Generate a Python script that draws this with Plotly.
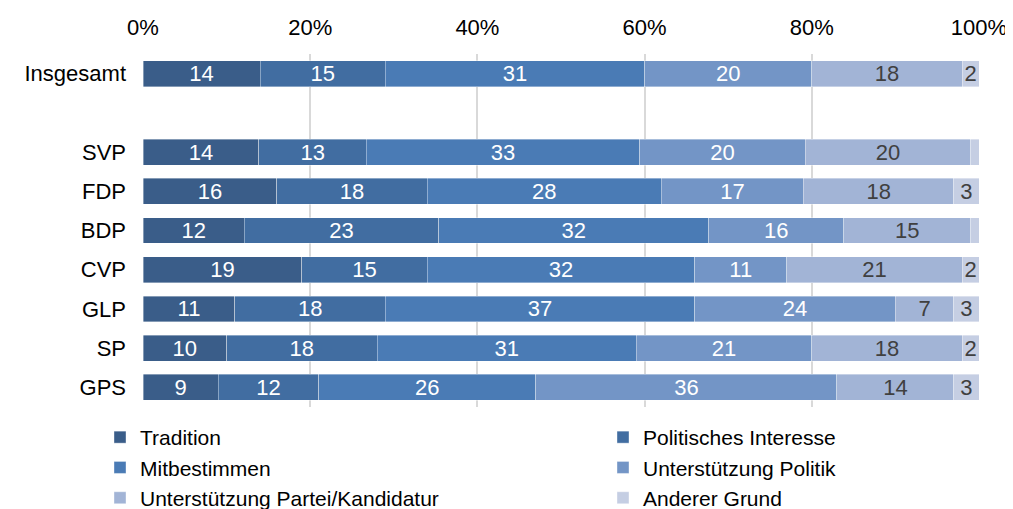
import plotly.graph_objects as go

categories = ["Insgesamt", " ", "SVP", "FDP", "BDP", "CVP", "GLP", "SP", "GPS"]
series_names = ["Tradition", "Politisches Interesse", "Mitbestimmen",
                "Unterstützung Politik", "Unterstützung Partei/Kandidatur", "Anderer Grund"]

tradition = [14, None, 14, 16, 12, 19, 11, 10, 9]
politisches_interesse = [15, None, 13, 18, 23, 15, 18, 18, 12]
mitbestimmen = [31, None, 33, 28, 32, 32, 37, 31, 26]
unterstuetzung_politik = [20, None, 20, 17, 16, 11, 24, 21, 36]
unterstuetzung_partei = [18, None, 20, 18, 15, 21, 7, 18, 14]
anderer_grund = [2, None, 1, 3, 1, 2, 3, 2, 3]

series_values = [tradition, politisches_interesse, mitbestimmen,
                 unterstuetzung_politik, unterstuetzung_partei, anderer_grund]
colors = ["#3A5D89", "#416DA1", "#4A7BB5", "#7395C6", "#A2B4D6", "#C5CEE3"]
text_colors = ["white", "white", "white", "white", "#404040", "#404040"]
legend_ids = ["legend", "legend2", "legend", "legend2", "legend", "legend2"]
tick_vals = [0, 20, 40, 60, 80, 100]
tick_labels = ["0%", "20%", "40%", "60%", "80%", "100%"]

FONT = "Liberation Sans, Arial, sans-serif"

# page body has an 8px margin; figure sized to fit the 1013x509 window
W, H = 1005, 501

fig = go.Figure()
for name, vals, col, tcol, lg in zip(series_names, series_values, colors, text_colors, legend_ids):
    txt = ["" if (v is None or v < 2) else str(v) for v in vals]
    fig.add_trace(go.Bar(
        name=name, y=categories, x=vals, orientation="h",
        marker=dict(color=col, line=dict(color="rgba(255,255,255,0.5)", width=0.75)),
        text=txt, textposition="inside", insidetextanchor="middle",
        textangle=0, constraintext="none",
        textfont=dict(family=FONT, size=22, color=tcol),
        hoverinfo="skip", legend=lg,
    ))

legend_common = dict(orientation="v", xanchor="left", yref="container", yanchor="top",
                     font=dict(family=FONT, size=21, color="#000000"),
                     itemwidth=30, tracegroupgap=0, borderwidth=0, traceorder="normal",
                     bgcolor="rgba(0,0,0,0)", xref="container")

fig.update_layout(
    barmode="stack", barnorm="percent", bargap=0.34,
    width=W, height=H,
    margin=dict(l=135, r=34, t=46, b=102, autoexpand=False),
    plot_bgcolor="white", paper_bgcolor="white",
    font=dict(family=FONT, size=22, color="#000000"),
    xaxis=dict(side="top", range=[0, 100], tickvals=tick_vals, ticktext=tick_labels,
               showgrid=True, gridcolor="#D9D9D9", gridwidth=1.5, zeroline=False,
               showline=False, ticks="", ticklabelstandoff=14,
               tickfont=dict(family=FONT, size=22, color="#000000")),
    yaxis=dict(categoryorder="array", categoryarray=categories, autorange="reversed",
               showgrid=False, zeroline=False, showline=False, ticks="",
               ticklabelstandoff=16,
               tickfont=dict(family=FONT, size=22, color="#000000")),
    legend=dict(x=92 / W, y=1 - 409 / H, **legend_common),
    legend2=dict(x=595 / W, y=1 - 409 / H, **legend_common),
)

fig.write_html("out.html")
